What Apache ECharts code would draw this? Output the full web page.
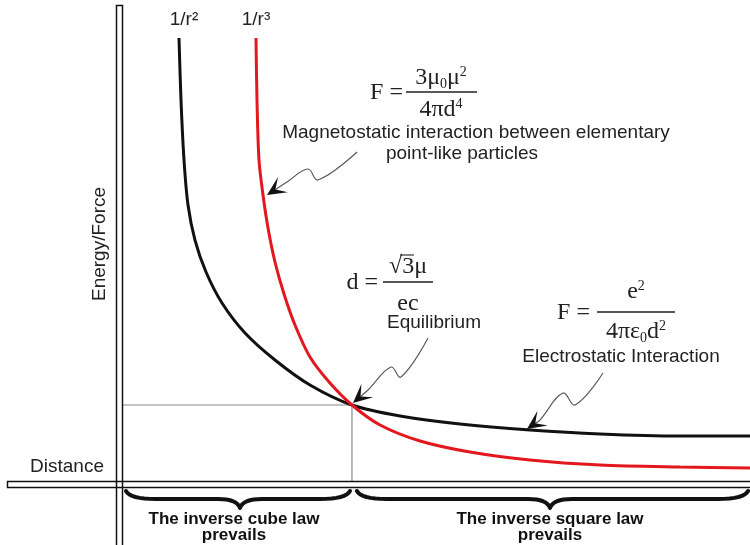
<!DOCTYPE html>
<html><head><meta charset="utf-8">
<script src="https://cdn.jsdelivr.net/npm/echarts/dist/echarts.min.js"></script>
<style>html,body{margin:0;padding:0;background:#fff}#c{width:750px;height:545px}</style>
</head><body><div id="c"></div>
<script>
// ---- data (distance units 0..10, energy/force units 0..10) ----
const inverseSquareX = [0.893, 0.925, 0.973, 1.037, 1.148, 1.324, 1.579, 1.946, 2.424, 2.982, 3.652, 4.418, 5.375, 6.491, 7.608, 8.884, 10.0];
const inverseSquareY = [9.308, 8.008, 6.751, 5.807, 5.073, 4.403, 3.753, 3.124, 2.558, 2.034, 1.614, 1.384, 1.216, 1.090, 1.006, 0.964, 0.964];
const inverseCubeX = [2.121, 2.137, 2.169, 2.233, 2.313, 2.424, 2.568, 2.743, 2.982, 3.301, 3.652, 4.099, 4.737, 5.534, 6.491, 7.608, 8.884, 10.0];
const inverseCubeY = [9.308, 8.008, 6.751, 6.017, 5.325, 4.612, 3.941, 3.291, 2.621, 2.075, 1.614, 1.195, 0.860, 0.629, 0.461, 0.356, 0.314, 0.294];
const equilibrium = [3.652, 1.614];
const curveLabels = ['1/r\u00b2', '1/r\u00b3'];
const axisNames = ['Distance', 'Energy/Force'];
const regionLabels = ['The inverse cube law\nprevails', 'The inverse square law\nprevails'];
const notes = ['Magnetostatic interaction between elementary', 'point-like particles', 'Equilibrium', 'Electrostatic Interaction'];

const zip = (xs, ys) => xs.map((x, i) => [x, ys[i]]);
const chart = echarts.init(document.getElementById('c'), null, {renderer: 'canvas'});
const SANS = '"Liberation Sans", Arial, sans-serif';
const SERIF = '"Liberation Serif", "Times New Roman", serif';

const option = {
  animation: false,
  backgroundColor: '#fff',
  grid: {left: 123, right: 0, top: 5, bottom: 63},
  xAxis: {type: 'value', min: 0, max: 10, show: false},
  yAxis: {type: 'value', min: 0, max: 10, show: false},
  series: [
    {
      type: 'line', data: [[0, equilibrium[1]], equilibrium, [equilibrium[0], 0]],
      symbol: 'none', lineStyle: {color: '#8a8a8a', width: 1.2}, z: 1, silent: true
    },
    {
      type: 'line', data: zip(inverseSquareX, inverseSquareY), smooth: 0.3,
      symbol: 'none', lineStyle: {color: '#111', width: 3}, z: 3,
      markPoint: {
        symbol: 'circle', symbolSize: 0, silent: true,
        data: [{coord: [inverseSquareX[0], inverseSquareY[0]]}],
        label: {show: true, position: 'top', distance: 9, offset: [5, 0], formatter: curveLabels[0],
          fontFamily: SANS, fontSize: 19, color: '#222'}
      }
    },
    {
      type: 'line', data: zip(inverseCubeX, inverseCubeY), smooth: 0.3,
      symbol: 'none', lineStyle: {color: '#e3171e', width: 3}, z: 4,
      markPoint: {
        symbol: 'circle', symbolSize: 0, silent: true,
        data: [{coord: [inverseCubeX[0], inverseCubeY[0]]}],
        label: {show: true, position: 'top', distance: 9, offset: [0, 0], formatter: curveLabels[1],
          fontFamily: SANS, fontSize: 19, color: '#222'}
      }
    }
  ]
};
chart.setOption(option);

const px = (p) => chart.convertToPixel({gridIndex: 0}, p);
const origin = px([0, 0]);
const eqPx = px(equilibrium);
const rightPx = px([10, 0]);

function text(x, y, t, font, extra) {
  return {type: 'text', x: x, y: y, z: 20,
    style: Object.assign({text: t, font: font, fill: '#222', align: 'center', verticalAlign: 'middle'}, extra || {})};
}
function richText(x, y, t, size) {
  const small = Math.round(size * 0.58);
  return {type: 'text', x: x, y: y, z: 20,
    style: {text: t, align: 'center', verticalAlign: 'middle', fill: '#222',
      rich: {
        a: {fontFamily: SERIF, fontSize: size, lineHeight: size + 2, color: '#222'},
        p: {fontFamily: SERIF, fontSize: small, lineHeight: small, verticalAlign: 'top', color: '#222'},
        s: {fontFamily: SERIF, fontSize: small, lineHeight: small, verticalAlign: 'bottom', color: '#222'}
      }}};
}
function hline(x1, x2, y, w) {
  return {type: 'line', z: 20, shape: {x1: x1, y1: y, x2: x2, y2: y}, style: {stroke: '#222', lineWidth: w || 1.3}};
}
function arrow(tip, offsets) {
  const pts = offsets.map(o => [tip[0] + o[0], tip[1] + o[1]]);
  const from = pts[pts.length - 1];
  const dx = tip[0] - from[0], dy = tip[1] - from[1];
  const L = Math.hypot(dx, dy), ux = dx / L, uy = dy / L, nx = -uy, ny = ux;
  const len = 19, half = 9, notch = 10;
  const back = [tip[0] - ux * len, tip[1] - uy * len];
  const head = [tip, [back[0] + nx * half, back[1] + ny * half], [tip[0] - ux * notch, tip[1] - uy * notch], [back[0] - nx * half, back[1] - ny * half]];
  const shaft = pts.concat([[tip[0] - ux * notch, tip[1] - uy * notch]]);
  return [
    {type: 'polyline', z: 18, shape: {points: shaft, smooth: 0.4}, style: {stroke: '#555', lineWidth: 1.1, fill: null}},
    {type: 'polygon', z: 19, shape: {points: head}, style: {fill: '#111'}}
  ];
}
function quad(p0, c, p1, n) {
  const out = [];
  for (let i = 0; i <= n; i++) {
    const t = i / n, a = (1 - t) * (1 - t), b = 2 * (1 - t) * t, d = t * t;
    out.push([a * p0[0] + b * c[0] + d * p1[0], a * p0[1] + b * c[1] + d * p1[1]]);
  }
  return out;
}
function brace(xa, xb, xc, y0) {
  const y1 = y0 + 8, y2 = y0 + 17;
  const pts = [].concat(
    quad([xa, y0], [xa + 4, y1], [xa + 30, y1], 8),
    quad([xc - 22, y1], [xc - 3, y1], [xc, y2], 8),
    quad([xc, y2], [xc + 3, y1], [xc + 22, y1], 8),
    quad([xb - 30, y1], [xb - 4, y1], [xb, y0], 8)
  );
  return {type: 'polyline', z: 15, shape: {points: pts}, style: {stroke: '#111', lineWidth: 4, fill: null, lineCap: 'round', lineJoin: 'round'}};
}

const magTip = px([inverseCubeX[3], inverseCubeY[3]]);
const elecTip = px([inverseSquareX[13], inverseSquareY[13]]);

const graphics = [
  {type: 'rect', z: 10, shape: {x: origin[0] - 6.5, y: 5.5, width: 6, height: 560}, style: {stroke: '#111', lineWidth: 1.5, fill: null}},
  {type: 'rect', z: 10, shape: {x: 7.5, y: origin[1] - 0.5, width: 760, height: 6}, style: {stroke: '#111', lineWidth: 1.5, fill: null}},
  text(104, 467, axisNames[0], '19px ' + SANS, {align: 'right'}),
  {type: 'text', x: 100, y: 244, rotation: Math.PI / 2, z: 20,
    style: {text: axisNames[1], font: '19px ' + SANS, fill: '#222', align: 'center', verticalAlign: 'middle'}},
  text(403, 93, 'F =', '24px ' + SERIF, {align: 'right'}),
  richText(441, 78, '{a|3μ}{s|0}{a|μ}{p|2}', 24),
  hline(406, 477, 92),
  richText(441, 110, '{a|4πd}{p|4}', 24),
  text(476, 133, notes[0], '19px ' + SANS),
  text(462, 154, notes[1], '19px ' + SANS),
  text(378, 283, 'd =', '24px ' + SERIF, {align: 'right'}),
  richText(408, 267, '{a|√3μ}', 24),
  hline(400, 414, 255, 1.1),
  hline(383, 433, 282),
  text(408, 304, 'ec', '24px ' + SERIF),
  text(434, 323, notes[2], '19px ' + SANS),
  text(590, 313, 'F =', '24px ' + SERIF, {align: 'right'}),
  richText(636, 292, '{a|e}{p|2}', 24),
  hline(597, 675, 312),
  richText(636, 332, '{a|4πε}{s|0}{a|d}{p|2}', 24),
  text(621, 357, notes[3], '19px ' + SANS),
  brace(origin[0] + 3, eqPx[0] - 2, 240, 491),
  brace(eqPx[0] + 5, rightPx[0] - 2, 550, 491),
  text(234, 527, regionLabels[0], 'bold 17px ' + SANS, {lineHeight: 16, fill: '#111'}),
  text(550, 527, regionLabels[1], 'bold 17px ' + SANS, {lineHeight: 16, fill: '#111'})
]
.concat(arrow([magTip[0] + 4, magTip[1]], [[90, -43], [51, -15], [41, -26], [20, -13]]))
.concat(arrow([eqPx[0] + 1, eqPx[1] - 2], [[75, -65], [48, -26], [38, -36], [15, -13]]))
.concat(arrow([elecTip[0] - 3, elecTip[1] - 1], [[76, -56], [48, -24], [36, -36], [13, -9]]));

chart.setOption({graphic: graphics});
</script>
</body></html>
